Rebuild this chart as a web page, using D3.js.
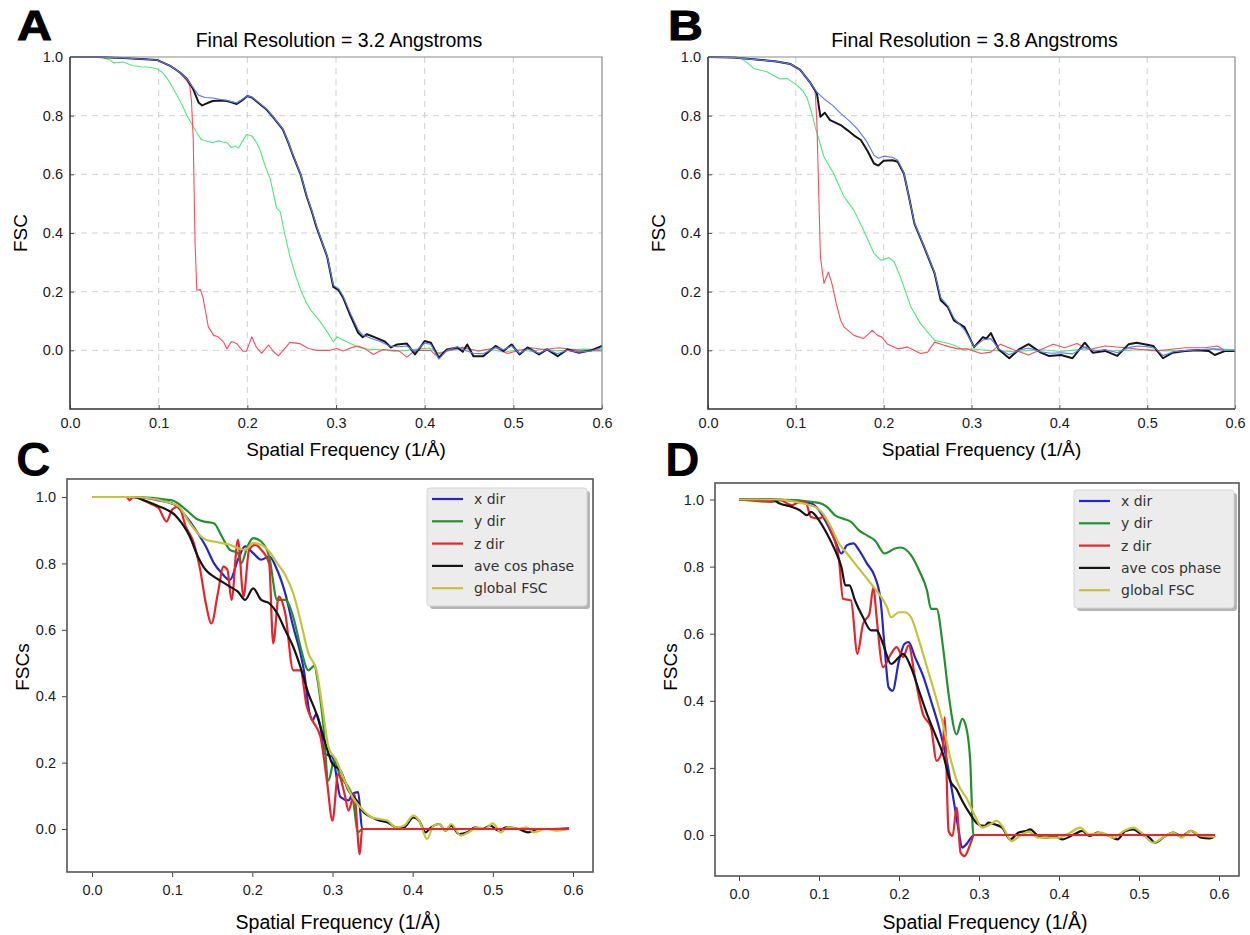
<!DOCTYPE html>
<html>
<head>
<meta charset="utf-8">
<script src="https://cdn.jsdelivr.net/npm/d3@7"></script>
<style>
  body { margin: 0; background: #fff; }
  svg { display: block; }
  text { font-family: "Liberation Sans", Arial, sans-serif; }
</style>
</head>
<body>
<svg id="fig" width="1250" height="935"></svg>
<script>
// ---- data: [spatial frequency, FSC] ----
const ticksX = [0, 0.1, 0.2, 0.3, 0.4, 0.5, 0.6]
const ticksY = [0, 0.2, 0.4, 0.6, 0.8, 1.0]

const aBlack = [[0,1],[0.03,1],[0.06,0.997],[0.08,0.993],[0.098,0.99],[0.113,0.97],[0.124,0.947],[0.132,0.925],[0.139,0.89],[0.145,0.845],[0.149,0.835],[0.155,0.843],[0.161,0.85],[0.17,0.852],[0.177,0.85],[0.183,0.845],[0.188,0.84],[0.194,0.852],[0.2,0.867],[0.205,0.862],[0.214,0.84],[0.222,0.82],[0.229,0.795],[0.24,0.753],[0.246,0.71],[0.252,0.66],[0.26,0.6],[0.267,0.524],[0.272,0.48],[0.278,0.42],[0.284,0.37],[0.29,0.32],[0.297,0.216],[0.303,0.205],[0.308,0.18],[0.316,0.12],[0.325,0.06],[0.33,0.045],[0.335,0.055],[0.344,0.044],[0.355,0.03],[0.362,0.01],[0.369,0.02],[0.38,0.023],[0.389,-0.014],[0.395,0.01],[0.4,0.032],[0.407,0.026],[0.416,-0.025],[0.425,0.003],[0.437,0.01],[0.443,-0.005],[0.448,0.02],[0.455,-0.02],[0.466,-0.02],[0.48,0.015],[0.489,-0.002],[0.498,0.02],[0.507,-0.014],[0.516,0.01],[0.529,-0.014],[0.538,0.003],[0.55,-0.02],[0.561,0.003],[0.574,-0.008],[0.588,0],[0.6,0.015]]
const aBlue = [[0,1],[0.03,1],[0.06,0.997],[0.08,0.993],[0.098,0.99],[0.113,0.97],[0.124,0.947],[0.132,0.925],[0.139,0.895],[0.145,0.87],[0.152,0.862],[0.161,0.86],[0.17,0.855],[0.177,0.852],[0.183,0.847],[0.188,0.843],[0.194,0.855],[0.2,0.868],[0.205,0.863],[0.214,0.842],[0.222,0.822],[0.229,0.797],[0.24,0.755],[0.246,0.712],[0.252,0.662],[0.26,0.602],[0.267,0.527],[0.272,0.483],[0.278,0.424],[0.284,0.372],[0.29,0.322],[0.297,0.222],[0.303,0.21],[0.308,0.185],[0.316,0.128],[0.325,0.07],[0.33,0.052],[0.34,0.04],[0.35,0.03],[0.36,0.015],[0.37,0.012],[0.38,0.015],[0.389,-0.005],[0.4,0.025],[0.407,0.02],[0.416,-0.03],[0.425,0],[0.437,0.012],[0.445,0],[0.455,-0.01],[0.466,-0.012],[0.48,0.01],[0.489,0.002],[0.498,0.015],[0.507,-0.01],[0.516,0.005],[0.529,-0.01],[0.538,0.003],[0.55,-0.012],[0.561,0],[0.574,-0.006],[0.588,-0.002],[0.6,0.01]]
const aGreen = [[0,1],[0.034,1],[0.045,0.99],[0.049,0.98],[0.06,0.983],[0.071,0.97],[0.08,0.967],[0.09,0.965],[0.098,0.96],[0.104,0.948],[0.109,0.93],[0.115,0.9],[0.12,0.873],[0.126,0.84],[0.132,0.8],[0.138,0.768],[0.143,0.742],[0.148,0.719],[0.155,0.712],[0.161,0.708],[0.167,0.714],[0.172,0.71],[0.177,0.708],[0.182,0.691],[0.186,0.697],[0.19,0.69],[0.195,0.715],[0.199,0.736],[0.205,0.731],[0.21,0.71],[0.214,0.685],[0.22,0.63],[0.226,0.582],[0.233,0.485],[0.237,0.474],[0.242,0.4],[0.248,0.32],[0.255,0.25],[0.261,0.2],[0.267,0.16],[0.272,0.135],[0.278,0.114],[0.284,0.09],[0.29,0.063],[0.297,0.029],[0.301,0.046],[0.308,0.035],[0.316,0.023],[0.325,0.011],[0.335,0.004],[0.35,0.002],[0.365,-0.003],[0.38,0],[0.395,0.005],[0.405,0.008],[0.415,-0.008],[0.43,0],[0.445,0.006],[0.46,-0.002],[0.475,0.003],[0.49,-0.006],[0.505,0.002],[0.52,-0.003],[0.535,0.004],[0.55,-0.002],[0.565,0.002],[0.58,0.004],[0.6,0.003]]
const aRed = [[0,1],[0.03,1],[0.06,0.997],[0.08,0.993],[0.098,0.99],[0.113,0.97],[0.124,0.947],[0.132,0.918],[0.135,0.902],[0.137,0.85],[0.139,0.72],[0.141,0.375],[0.143,0.205],[0.147,0.207],[0.15,0.18],[0.153,0.13],[0.156,0.08],[0.162,0.051],[0.167,0.046],[0.173,0.029],[0.177,0.005],[0.182,0.03],[0.188,0.023],[0.195,-0.003],[0.199,-0.003],[0.205,0.046],[0.21,0.012],[0.216,-0.01],[0.224,0.018],[0.229,-0.003],[0.235,-0.019],[0.248,0.027],[0.259,0.023],[0.269,0.006],[0.278,0],[0.293,0],[0.301,0.006],[0.308,-0.002],[0.318,0.01],[0.325,0.015],[0.333,0.005],[0.342,-0.014],[0.353,0.003],[0.371,-0.002],[0.38,-0.023],[0.389,0],[0.407,0],[0.412,-0.016],[0.425,-0.002],[0.443,0.01],[0.461,-0.002],[0.48,0.009],[0.493,-0.011],[0.507,0],[0.52,0.009],[0.534,0.003],[0.552,0.009],[0.574,0],[0.6,-0.002]]

const bBlack = [[0,1],[0.03,0.998],[0.052,0.992],[0.078,0.985],[0.094,0.976],[0.105,0.956],[0.117,0.91],[0.124,0.876],[0.128,0.796],[0.133,0.81],[0.139,0.785],[0.151,0.768],[0.159,0.75],[0.166,0.733],[0.174,0.717],[0.181,0.683],[0.189,0.637],[0.194,0.63],[0.2,0.646],[0.21,0.648],[0.216,0.643],[0.223,0.603],[0.229,0.52],[0.235,0.432],[0.246,0.353],[0.258,0.262],[0.265,0.171],[0.273,0.148],[0.28,0.102],[0.292,0.079],[0.303,0.011],[0.313,0.045],[0.317,0.04],[0.322,0.059],[0.331,0.003],[0.343,-0.027],[0.354,0.003],[0.365,0.021],[0.379,-0.008],[0.388,-0.019],[0.402,-0.016],[0.415,-0.027],[0.429,0.026],[0.438,-0.008],[0.452,-0.002],[0.466,-0.019],[0.479,0.021],[0.488,0.026],[0.497,0.021],[0.507,0.015],[0.518,-0.027],[0.529,-0.008],[0.543,-0.002],[0.557,0],[0.57,-0.002],[0.577,-0.016],[0.589,-0.002],[0.6,-0.002]]
const bBlue = [[0,1],[0.03,0.998],[0.052,0.992],[0.078,0.985],[0.094,0.976],[0.105,0.956],[0.117,0.91],[0.124,0.88],[0.133,0.855],[0.142,0.835],[0.151,0.808],[0.16,0.785],[0.17,0.755],[0.18,0.715],[0.189,0.665],[0.194,0.655],[0.2,0.662],[0.21,0.658],[0.216,0.648],[0.223,0.605],[0.229,0.52],[0.235,0.435],[0.246,0.355],[0.258,0.265],[0.265,0.18],[0.273,0.152],[0.28,0.11],[0.292,0.07],[0.303,0.012],[0.313,0.035],[0.322,0.04],[0.331,0.005],[0.343,-0.015],[0.354,0],[0.365,0.008],[0.379,-0.005],[0.39,-0.01],[0.402,-0.008],[0.415,-0.012],[0.429,0.012],[0.44,-0.002],[0.452,0.003],[0.466,-0.008],[0.479,0.01],[0.49,0.015],[0.5,0.012],[0.51,0.006],[0.518,-0.018],[0.53,-0.005],[0.545,0],[0.56,0.002],[0.575,0.005],[0.588,0],[0.6,0]]
const bGreen = [[0,1],[0.036,0.998],[0.045,0.98],[0.052,0.961],[0.067,0.95],[0.082,0.925],[0.09,0.927],[0.101,0.904],[0.108,0.885],[0.113,0.859],[0.118,0.81],[0.122,0.762],[0.132,0.66],[0.143,0.603],[0.155,0.523],[0.166,0.478],[0.177,0.41],[0.189,0.33],[0.197,0.307],[0.206,0.316],[0.212,0.301],[0.219,0.25],[0.231,0.148],[0.242,0.091],[0.258,0.034],[0.265,0.029],[0.274,0.023],[0.28,0.017],[0.292,0],[0.3,0.005],[0.31,0.002],[0.32,0],[0.335,-0.002],[0.35,-0.005],[0.365,0],[0.38,0.002],[0.4,-0.004],[0.415,0],[0.43,0.005],[0.45,-0.003],[0.47,0],[0.5,0.003],[0.52,-0.002],[0.55,0],[0.58,0.005],[0.6,0.002]]
const bRed = [[0,1],[0.03,0.998],[0.052,0.992],[0.078,0.985],[0.094,0.976],[0.105,0.956],[0.117,0.91],[0.122,0.885],[0.124,0.774],[0.126,0.546],[0.128,0.318],[0.132,0.228],[0.137,0.267],[0.141,0.228],[0.146,0.16],[0.151,0.102],[0.155,0.079],[0.166,0.051],[0.177,0.04],[0.187,0.068],[0.193,0.051],[0.198,0.045],[0.204,0.022],[0.216,0.005],[0.227,0.011],[0.242,-0.011],[0.25,-0.006],[0.258,0.028],[0.269,0.017],[0.284,0.005],[0.295,0.005],[0.311,-0.011],[0.322,-0.006],[0.333,0.021],[0.347,0.003],[0.365,-0.016],[0.379,0.003],[0.393,0.021],[0.406,0.009],[0.42,0.023],[0.434,0.003],[0.452,0.015],[0.475,0.009],[0.493,0.003],[0.511,-0.002],[0.525,0.003],[0.543,0.009],[0.566,0.009],[0.58,0.015],[0.589,-0.002],[0.6,0]]

const cX = [[0,1],[0.048,1],[0.083,0.99],[0.103,0.977],[0.117,0.942],[0.132,0.891],[0.142,0.851],[0.152,0.801],[0.162,0.77],[0.172,0.75],[0.182,0.811],[0.191,0.851],[0.201,0.831],[0.211,0.811],[0.221,0.821],[0.231,0.78],[0.241,0.71],[0.251,0.609],[0.26,0.529],[0.265,0.468],[0.27,0.368],[0.275,0.327],[0.28,0.347],[0.285,0.307],[0.29,0.227],[0.3,0.217],[0.31,0.096],[0.32,0.086],[0.325,0.106],[0.332,0.111],[0.337,0],[0.595,0]]
const cY = [[0,1],[0.05,1],[0.1,0.99],[0.117,0.962],[0.132,0.932],[0.142,0.925],[0.152,0.921],[0.162,0.881],[0.172,0.841],[0.182,0.831],[0.186,0.8],[0.194,0.851],[0.201,0.876],[0.211,0.866],[0.221,0.821],[0.231,0.69],[0.241,0.69],[0.251,0.639],[0.26,0.549],[0.27,0.478],[0.278,0.493],[0.28,0.468],[0.288,0.327],[0.295,0.146],[0.302,0.206],[0.31,0.156],[0.317,0.136],[0.325,0.096],[0.332,-0.01],[0.337,0],[0.595,0]]
const cZ = [[0,1],[0.043,1],[0.047,0.99],[0.051,1],[0.073,0.98],[0.083,0.967],[0.093,0.926],[0.1,0.962],[0.108,0.972],[0.117,0.911],[0.127,0.861],[0.135,0.78],[0.142,0.68],[0.149,0.619],[0.157,0.71],[0.164,0.79],[0.169,0.78],[0.174,0.69],[0.182,0.871],[0.189,0.7],[0.196,0.841],[0.204,0.856],[0.211,0.841],[0.221,0.8],[0.226,0.559],[0.233,0.7],[0.241,0.65],[0.251,0.478],[0.26,0.478],[0.268,0.368],[0.275,0.327],[0.285,0.277],[0.293,0.146],[0.3,0.025],[0.307,0.166],[0.315,0.106],[0.32,0.055],[0.327,0.106],[0.334,-0.076],[0.337,0],[0.595,0]]
const cAve = [[0,1],[0.05,1],[0.068,0.987],[0.083,0.972],[0.093,0.962],[0.103,0.947],[0.112,0.921],[0.122,0.881],[0.132,0.821],[0.142,0.78],[0.152,0.76],[0.162,0.745],[0.172,0.73],[0.182,0.715],[0.191,0.69],[0.201,0.725],[0.211,0.69],[0.221,0.68],[0.231,0.65],[0.241,0.599],[0.251,0.549],[0.26,0.488],[0.27,0.408],[0.28,0.347],[0.29,0.267],[0.3,0.196],[0.31,0.176],[0.32,0.116],[0.33,0.086],[0.339,0.05],[0.349,0.035],[0.359,0.025],[0.369,0.02],[0.379,0.005],[0.389,0.005],[0.401,0.035],[0.408,0.025],[0.416,-0.01],[0.423,0.005],[0.433,0.015],[0.441,-0.005],[0.448,0.01],[0.458,-0.015],[0.468,-0.01],[0.478,0.005],[0.487,0],[0.497,0.01],[0.507,-0.005],[0.517,0.005],[0.532,0],[0.544,-0.01],[0.556,0],[0.576,0],[0.595,0.002]]
const cGlob = [[0,1],[0.05,1],[0.093,0.985],[0.108,0.972],[0.122,0.921],[0.132,0.891],[0.142,0.871],[0.152,0.866],[0.162,0.861],[0.172,0.856],[0.182,0.846],[0.191,0.841],[0.201,0.861],[0.211,0.856],[0.221,0.836],[0.231,0.801],[0.241,0.765],[0.251,0.71],[0.26,0.629],[0.27,0.529],[0.28,0.478],[0.288,0.357],[0.295,0.247],[0.305,0.206],[0.315,0.146],[0.325,0.096],[0.339,0.055],[0.349,0.035],[0.359,0.03],[0.369,0.025],[0.379,0.005],[0.389,0.01],[0.401,0.04],[0.408,0.025],[0.418,-0.03],[0.426,0.01],[0.433,0.015],[0.441,-0.005],[0.448,0.015],[0.46,-0.02],[0.47,-0.01],[0.48,0.005],[0.49,0],[0.5,0.017],[0.51,-0.01],[0.519,0.005],[0.532,0],[0.542,0.005],[0.551,-0.01],[0.566,0],[0.581,-0.005],[0.595,0]]

const dX = [[0,1],[0.046,1],[0.076,0.993],[0.09,0.988],[0.1,0.968],[0.11,0.928],[0.12,0.878],[0.128,0.839],[0.135,0.864],[0.143,0.869],[0.15,0.849],[0.16,0.809],[0.17,0.769],[0.177,0.699],[0.182,0.56],[0.187,0.44],[0.192,0.43],[0.2,0.52],[0.207,0.57],[0.212,0.575],[0.22,0.53],[0.23,0.475],[0.24,0.4],[0.25,0.321],[0.259,0.231],[0.267,0.122],[0.274,0.022],[0.279,-0.038],[0.284,-0.028],[0.294,0],[0.595,0]]
const dY = [[0,1],[0.05,1],[0.1,0.99],[0.11,0.978],[0.12,0.953],[0.13,0.943],[0.14,0.933],[0.15,0.908],[0.16,0.893],[0.17,0.878],[0.182,0.839],[0.195,0.854],[0.202,0.857],[0.215,0.834],[0.225,0.789],[0.235,0.729],[0.24,0.674],[0.247,0.674],[0.255,0.56],[0.262,0.42],[0.272,0.3],[0.279,0.346],[0.284,0.321],[0.289,0.221],[0.293,0],[0.595,0]]
const dZ = [[0,1],[0.041,0.993],[0.051,0.998],[0.066,0.983],[0.076,0.993],[0.083,0.993],[0.09,0.948],[0.1,0.943],[0.105,0.948],[0.115,0.908],[0.125,0.819],[0.13,0.704],[0.14,0.699],[0.148,0.54],[0.155,0.629],[0.163,0.659],[0.168,0.739],[0.172,0.649],[0.18,0.5],[0.19,0.54],[0.197,0.56],[0.205,0.53],[0.212,0.565],[0.22,0.47],[0.23,0.36],[0.24,0.321],[0.247,0.221],[0.255,0.261],[0.257,0.351],[0.262,0.012],[0.267,-0.003],[0.272,0.082],[0.277,-0.053],[0.282,-0.063],[0.289,-0.028],[0.294,0],[0.595,0]]
const dAve = [[0,1],[0.041,1],[0.051,0.988],[0.066,0.978],[0.076,0.968],[0.085,0.953],[0.09,0.963],[0.1,0.938],[0.11,0.898],[0.12,0.849],[0.128,0.799],[0.133,0.744],[0.138,0.744],[0.145,0.699],[0.155,0.649],[0.165,0.61],[0.172,0.61],[0.18,0.57],[0.19,0.51],[0.2,0.53],[0.205,0.54],[0.215,0.5],[0.225,0.43],[0.235,0.361],[0.245,0.301],[0.255,0.241],[0.264,0.161],[0.272,0.136],[0.279,0.102],[0.289,0.062],[0.299,0.032],[0.307,0.027],[0.312,0.037],[0.319,0.032],[0.329,0.022],[0.339,-0.013],[0.349,0.007],[0.359,0.012],[0.364,0.017],[0.374,-0.003],[0.384,-0.008],[0.394,-0.003],[0.404,-0.013],[0.419,0.002],[0.429,0.012],[0.438,-0.003],[0.448,0.007],[0.463,-0.003],[0.473,-0.013],[0.483,0.012],[0.493,0.017],[0.503,0.002],[0.513,-0.008],[0.52,-0.023],[0.533,-0.003],[0.543,0.007],[0.553,-0.003],[0.565,0.012],[0.578,-0.008],[0.588,-0.01],[0.595,-0.003]]
const dGlob = [[0,1],[0.05,1],[0.08,0.988],[0.095,0.978],[0.105,0.958],[0.115,0.918],[0.125,0.869],[0.135,0.839],[0.145,0.809],[0.155,0.779],[0.165,0.749],[0.175,0.719],[0.185,0.679],[0.19,0.649],[0.2,0.664],[0.207,0.664],[0.215,0.649],[0.225,0.58],[0.235,0.5],[0.245,0.42],[0.255,0.331],[0.264,0.231],[0.274,0.151],[0.284,0.112],[0.294,0.062],[0.304,0.022],[0.314,0.032],[0.322,0.042],[0.329,0.027],[0.341,-0.018],[0.351,-0.003],[0.362,0.01],[0.374,-0.008],[0.389,-0.008],[0.399,-0.008],[0.414,0.007],[0.426,0.022],[0.438,0.002],[0.453,0.007],[0.468,-0.008],[0.481,0.012],[0.493,0.022],[0.503,0.007],[0.518,-0.023],[0.533,-0.003],[0.543,0.007],[0.553,-0.008],[0.565,0.012],[0.578,-0.003],[0.595,-0.006]]

const legendNames = ['x dir', 'y dir', 'z dir', 'ave cos phase', 'global FSC']
const dirColors = ['#2424d2', '#23902f', '#e8242a', '#141414', '#c6c23c']
const fscColors = { blue: '#5a78ff', black: '#161616', green: '#4fe87a', red: '#ff4b5c' }

const svg = d3.select('#fig')

// panel letters: [letter, x, baseline, font size]
const letters = [['A', 17, 39.5, 42], ['B', 668, 39.5, 42], ['C', 16, 476, 48], ['D', 665, 476, 48]]
svg.selectAll('text.letter').data(letters).join('text')
  .attr('class', 'letter')
  .attr('transform', d => `translate(${d[1]},${d[2]}) scale(${d[3] < 45 ? 1.15 : 1},1)`)
  .style('font-family', '"Liberation Sans", Arial, sans-serif')
  .style('font-weight', 'bold')
  .style('font-size', d => d[3] + 'px')
  .attr('stroke', '#000').attr('stroke-width', d => d[3] < 45 ? 1 : 0)
  .text(d => d[0])

function drawFscPanel(opts) {
  let g = svg.append('g')
  let x = d3.scaleLinear().domain([0, 0.6]).range([opts.left, opts.right])
  let y = d3.scaleLinear().domain([-0.2, 1.0]).range([opts.bottom, opts.top])

  // dashed grid
  g.selectAll('line.vgrid').data(ticksX.slice(1, -1)).join('line')
    .attr('x1', d => x(d)).attr('x2', d => x(d))
    .attr('y1', opts.top).attr('y2', opts.bottom)
    .attr('stroke', '#cfcfcf').attr('stroke-dasharray', '6,5')
  g.selectAll('line.hgrid').data(ticksY.slice(0, -1)).join('line')
    .attr('x1', opts.left).attr('x2', opts.right)
    .attr('y1', d => y(d)).attr('y2', d => y(d))
    .attr('stroke', '#cfcfcf').attr('stroke-dasharray', '6,5')

  // axes
  let ax = g.append('g').attr('transform', `translate(0,${opts.bottom})`)
    .call(d3.axisBottom(x).tickValues(ticksX).tickFormat(d3.format('.1f')).tickSize(-4).tickPadding(9))
  let ay = g.append('g').attr('transform', `translate(${opts.left},0)`)
    .call(d3.axisLeft(y).tickValues(ticksY).tickFormat(d3.format('.1f')).tickSize(-4).tickPadding(7))
  for (let a of [ax, ay]) {
    a.select('.domain').remove()
    a.selectAll('line').attr('stroke', '#555')
    a.selectAll('text').style('font-size', '14.5px').style('font-family', '"Liberation Sans", Arial, sans-serif').attr('fill', '#1a1a2a')
  }

  // curves
  let line = d3.line().x(d => x(d[0])).y(d => y(d[1]))
  let order = [['green', opts.green, 1.1], ['red', opts.red, 1.1], ['black', opts.black, 2], ['blue', opts.blue, 1.1]]
  for (let [c, data, w] of order) {
    g.append('path').datum(data).attr('d', line)
      .attr('fill', 'none').attr('stroke', fscColors[c]).attr('stroke-width', w)
      .attr('stroke-linejoin', 'round')
  }

  // frame
  g.append('path')
    .attr('d', `M${opts.left},${opts.top}H${opts.right}V${opts.bottom}`)
    .attr('fill', 'none').attr('stroke', '#8a8a8a').attr('stroke-width', 1.2)
  g.append('path')
    .attr('d', `M${opts.left},${opts.top}V${opts.bottom}H${opts.right}`)
    .attr('fill', 'none').attr('stroke', '#333').attr('stroke-width', 1.6)

  // texts
  let cx = (opts.left + opts.right) / 2
  g.append('text').attr('x', cx + 3).attr('y', 47).attr('text-anchor', 'middle')
    .style('font-size', '19.5px').text(opts.title)
  g.append('text').attr('x', cx + 10).attr('y', 456).attr('text-anchor', 'middle')
    .style('font-size', '19px').text('Spatial Frequency (1/Å)')
  g.append('text').attr('transform', `translate(${opts.left - 43},${y(0.4)}) rotate(-90)`)
    .attr('text-anchor', 'middle').style('font-size', '19px').text('FSC')
}

function drawDirPanel(opts) {
  let g = svg.append('g')
  let x = d3.scaleLinear().domain([0, 0.6]).range([opts.x0, opts.x6])
  let y = d3.scaleLinear().domain([0, 1]).range([opts.y0, opts.y1])

  let ax = g.append('g').attr('transform', `translate(0,${opts.bottom})`)
    .call(d3.axisBottom(x).tickValues(ticksX).tickFormat(d3.format('.1f')).tickSize(5).tickPadding(8))
  let ay = g.append('g').attr('transform', `translate(${opts.left},0)`)
    .call(d3.axisLeft(y).tickValues(ticksY).tickFormat(d3.format('.1f')).tickSize(5).tickPadding(6))
  for (let a of [ax, ay]) {
    a.select('.domain').remove()
    a.selectAll('line').attr('stroke', '#444')
    a.selectAll('text').style('font-size', '14.5px').style('font-family', '"Liberation Sans", Arial, sans-serif').attr('fill', '#1a1a2a')
  }

  let line = d3.line().x(d => x(d[0])).y(d => y(d[1])).curve(d3.curveMonotoneX)
  // draw order: x, y, z, ave, global; then z flat part on top
  opts.series.forEach((data, i) => {
    g.append('path').datum(data).attr('d', line)
      .attr('fill', 'none').attr('stroke', dirColors[i]).attr('stroke-width', 2.2)
      .attr('stroke-linejoin', 'round')
  })
  let zTail = opts.series[2].filter(d => d[0] >= opts.cut)
  g.append('path').datum(zTail).attr('d', line)
    .attr('fill', 'none').attr('stroke', dirColors[2]).attr('stroke-width', 2.2)

  g.append('rect').attr('x', opts.left).attr('y', opts.top)
    .attr('width', opts.right - opts.left).attr('height', opts.bottom - opts.top)
    .attr('fill', 'none').attr('stroke', '#555').attr('stroke-width', 1.6)

  // legend
  let lg = g.append('g').attr('transform', `translate(${opts.legX},${opts.legY})`)
  lg.append('rect').attr('x', 3).attr('y', 3).attr('width', 160).attr('height', 118)
    .attr('fill', '#b4b4b4').attr('rx', 3)
  lg.append('rect').attr('width', 160).attr('height', 118).attr('rx', 3)
    .attr('fill', '#ececec').attr('stroke', '#d4d4d4')
  let rows = lg.selectAll('g.row').data(legendNames).join('g')
    .attr('transform', (d, i) => `translate(0,${11 + i * 22.3})`)
  rows.append('line').attr('x1', 5).attr('x2', 36).attr('y1', 0).attr('y2', 0)
    .attr('stroke', (d, i) => dirColors[i]).attr('stroke-width', 2.2)
  rows.append('text').attr('x', 47).attr('y', 5)
    .style('font-family', '"DejaVu Sans", sans-serif').style('font-size', '14px')
    .attr('fill', '#333').text(d => d)

  let cx = (opts.left + opts.right) / 2
  g.append('text').attr('x', cx + 8).attr('y', 929).attr('text-anchor', 'middle')
    .style('font-size', '19.5px').text('Spatial Frequency (1/Å)')
  g.append('text').attr('transform', `translate(${opts.left - 38},667) rotate(-90)`)
    .attr('text-anchor', 'middle').style('font-size', '19px').text('FSCs')
}

drawFscPanel({ left: 70, right: 602, top: 57, bottom: 409, title: 'Final Resolution = 3.2 Angstroms',
  black: aBlack, blue: aBlue, green: aGreen, red: aRed })
drawFscPanel({ left: 708, right: 1235, top: 57, bottom: 409, title: 'Final Resolution = 3.8 Angstroms',
  black: bBlack, blue: bBlue, green: bGreen, red: bRed })

drawDirPanel({ left: 67, right: 593, top: 479, bottom: 872, x0: 92, x6: 573, y0: 829, y1: 497,
  series: [cX, cY, cZ, cAve, cGlob], cut: 0.337, legX: 427, legY: 488 })
drawDirPanel({ left: 715, right: 1239, top: 483, bottom: 876, x0: 739, x6: 1219, y0: 835, y1: 499.5,
  series: [dX, dY, dZ, dAve, dGlob], cut: 0.294, legX: 1074, legY: 490 })
</script>
</body>
</html>
